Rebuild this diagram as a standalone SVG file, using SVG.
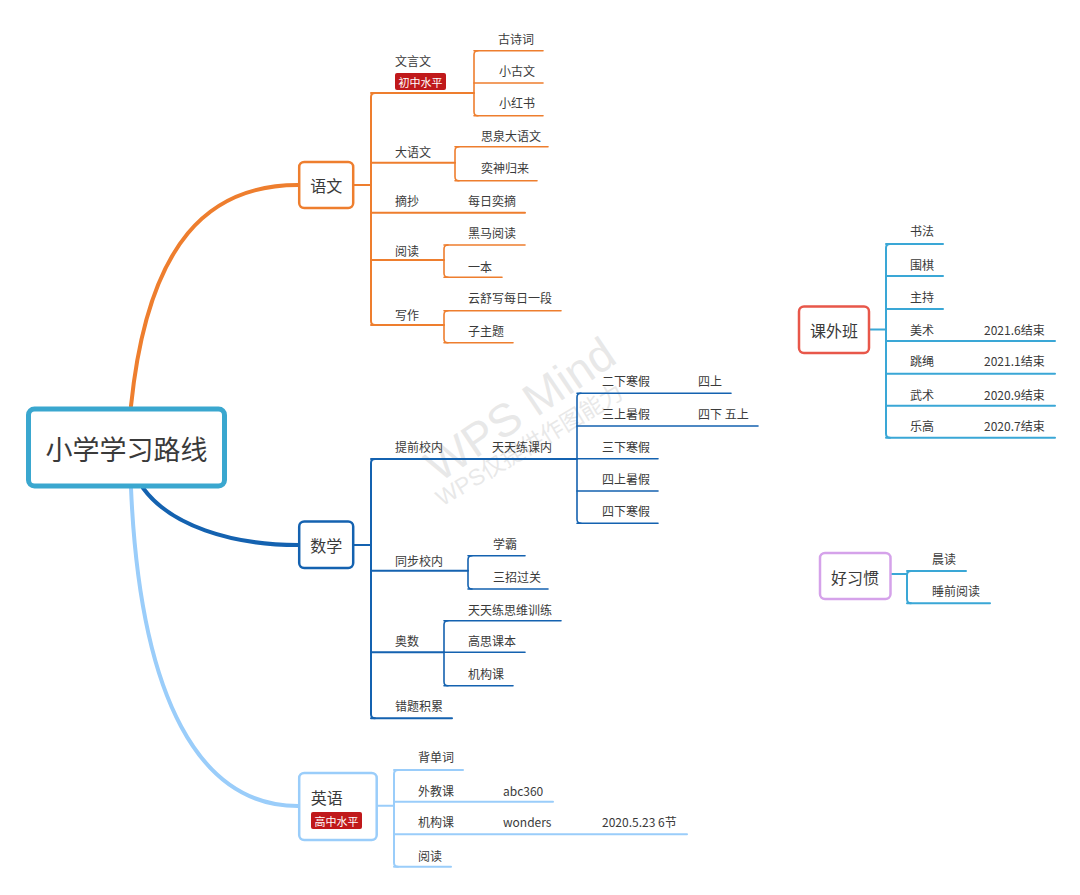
<svg xmlns="http://www.w3.org/2000/svg" width="1080" height="895" viewBox="0 0 1080 895">
<style>
text{font-family:"Noto Sans CJK SC","Liberation Sans",sans-serif;fill:#3a3a3a;dominant-baseline:central}
.t{font-size:12px}
.n{font-size:16px;text-anchor:middle}
.tag{font-size:11px;fill:#fff;text-anchor:middle}
.wm{fill:#d9d9d9;fill-opacity:0.6;font-family:"Liberation Sans","Noto Sans CJK SC",sans-serif}
path,line{fill:none;stroke-linecap:round}
.o{stroke:#EE7E2E}
.b{stroke:#1462B0}
.l{stroke:#9ACDFA}
.c{stroke:#3AA7D6}
.w2{stroke-width:2}
.w15{stroke-width:1.6}
.node{fill:#fff;stroke-width:2.5}
</style>
<rect width="1080" height="895" fill="#fff"/>

<g id="watermark">
<text class="wm" x="0" y="0" font-size="46" transform="translate(430,470) rotate(-34)">WPS Mind</text>
<text class="wm" x="0" y="0" font-size="23" transform="translate(438,500) rotate(-31)">WPS仅提供作图能力</text>
</g>

<g id="connectors">
<!-- main curves -->
<path d="M131,406 C148,240 210,185 298,185" stroke="#EE7E2E" stroke-width="4"/>
<path d="M143,488 C170,525 230,545 298,545" stroke="#1462B0" stroke-width="4"/>
<path d="M131,488 C140,700 200,806 298,806" stroke="#9ACDFA" stroke-width="4"/>

<!-- 语文 -->
<g class="o">
<line class="w2" x1="354" y1="185" x2="371" y2="185"/>
<path class="w2" d="M375,93 Q371,93 371,97 V321 Q371,325 375,325"/>
<line class="w2" x1="371" y1="93" x2="474" y2="93"/>
<line class="w2" x1="371" y1="162.7" x2="455" y2="162.7"/>
<line class="w2" x1="371" y1="212.7" x2="525" y2="212.7"/>
<line class="w2" x1="371" y1="260" x2="444" y2="260"/>
<line class="w2" x1="371" y1="325" x2="444" y2="325"/>
<path class="w15" d="M478,50.7 Q474,50.7 474,54.7 V111.7 Q474,115.7 478,115.7"/>
<line class="w15" x1="474" y1="50.7" x2="543" y2="50.7"/>
<line class="w15" x1="474" y1="83" x2="543" y2="83"/>
<line class="w15" x1="474" y1="115.7" x2="543" y2="115.7"/>
<path class="w15" d="M459,146.7 Q455,146.7 455,150.7 V176.7 Q455,180.7 459,180.7"/>
<line class="w15" x1="455" y1="146.7" x2="548" y2="146.7"/>
<line class="w15" x1="455" y1="180.7" x2="537" y2="180.7"/>
<path class="w15" d="M448,245 Q444,245 444,249 V273.3 Q444,277.3 448,277.3"/>
<line class="w15" x1="444" y1="245" x2="525" y2="245"/>
<line class="w15" x1="444" y1="277.3" x2="502" y2="277.3"/>
<path class="w15" d="M448,310.7 Q444,310.7 444,314.7 V338.7 Q444,342.7 448,342.7"/>
<line class="w15" x1="444" y1="310.7" x2="561" y2="310.7"/>
<line class="w15" x1="444" y1="342.7" x2="513" y2="342.7"/>
</g>

<!-- 数学 -->
<g class="b">
<line class="w2" x1="354" y1="545" x2="371" y2="545"/>
<path class="w2" d="M375,459 Q371,459 371,463 V714.3 Q371,718.3 375,718.3"/>
<line class="w2" x1="371" y1="459" x2="577" y2="459"/>
<line class="w2" x1="371" y1="570.7" x2="468" y2="570.7"/>
<line class="w2" x1="371" y1="652.3" x2="444" y2="652.3"/>
<line class="w2" x1="371" y1="718.3" x2="452" y2="718.3"/>
<path class="w15" d="M581,393.3 Q577,393.3 577,397.3 V519.3 Q577,523.3 581,523.3"/>
<line class="w15" x1="577" y1="393.3" x2="731" y2="393.3"/>
<line class="w15" x1="577" y1="426" x2="758" y2="426"/>
<line class="w15" x1="577" y1="458.7" x2="658" y2="458.7"/>
<line class="w15" x1="577" y1="491" x2="658" y2="491"/>
<line class="w15" x1="577" y1="523.3" x2="658" y2="523.3"/>
<path class="w15" d="M472,555.7 Q468,555.7 468,559.7 V585 Q468,589 472,589"/>
<line class="w15" x1="468" y1="555.7" x2="525" y2="555.7"/>
<line class="w15" x1="468" y1="589" x2="548" y2="589"/>
<path class="w15" d="M448,620.7 Q444,620.7 444,624.7 V681.7 Q444,685.7 448,685.7"/>
<line class="w15" x1="444" y1="620.7" x2="561" y2="620.7"/>
<line class="w15" x1="444" y1="652.3" x2="525" y2="652.3"/>
<line class="w15" x1="444" y1="685.7" x2="513" y2="685.7"/>
</g>

<!-- 英语 -->
<g class="l">
<line class="w2" x1="377" y1="805.7" x2="394" y2="805.7"/>
<path class="w2" d="M398,770 Q394,770 394,774 V862.7 Q394,866.7 398,866.7"/>
<line class="w2" x1="394" y1="770" x2="463" y2="770"/>
<line class="w2" x1="394" y1="801.7" x2="553" y2="801.7"/>
<line class="w2" x1="394" y1="834.3" x2="687" y2="834.3"/>
<line class="w2" x1="394" y1="866.7" x2="451" y2="866.7"/>
</g>

<!-- 课外班 -->
<g class="c">
<line class="w2" x1="869" y1="329.5" x2="886" y2="329.5"/>
<path class="w2" d="M890,244 Q886,244 886,248 V433.7 Q886,437.7 890,437.7"/>
<line class="w2" x1="886" y1="244" x2="943" y2="244"/>
<line class="w2" x1="886" y1="276" x2="943" y2="276"/>
<line class="w2" x1="886" y1="309" x2="943" y2="309"/>
<line class="w2" x1="886" y1="341" x2="1055" y2="341"/>
<line class="w2" x1="886" y1="373.7" x2="1055" y2="373.7"/>
<line class="w2" x1="886" y1="405.7" x2="1055" y2="405.7"/>
<line class="w2" x1="886" y1="437.7" x2="1055" y2="437.7"/>
</g>

<!-- 好习惯 -->
<g class="c">
<line class="w2" x1="891" y1="574" x2="907" y2="574"/>
<path class="w2" d="M911,571 Q907,571 907,575 V599.3 Q907,603.3 911,603.3"/>
<line class="w2" x1="907" y1="571" x2="966" y2="571"/>
<line class="w2" x1="907" y1="603.3" x2="990" y2="603.3"/>
</g>
</g>

<g id="root">
<rect x="28.5" y="409" width="196" height="77" rx="6" fill="#fff" stroke="#3AA7CF" stroke-width="5"/>
<text x="126.5" y="448" font-size="27" text-anchor="middle">小学学习路线</text>
</g>

<g id="yuwen">
<rect class="node" x="299.2" y="162" width="54" height="46" rx="5" stroke="#EE7E2E"/>
<text class="n" x="326.2" y="185">语文</text>
<text class="t" x="395" y="60">文言文</text>
<rect x="395" y="73" width="51" height="17" rx="2" fill="#C0191B"/>
<text class="tag" x="420.5" y="81.5">初中水平</text>
<text class="t" x="498" y="38">古诗词</text>
<text class="t" x="499" y="70.7">小古文</text>
<text class="t" x="499" y="102.7">小红书</text>
<text class="t" x="395" y="151.7">大语文</text>
<text class="t" x="481" y="135.7">思泉大语文</text>
<text class="t" x="481" y="167.7">奕神归来</text>
<text class="t" x="395" y="200">摘抄</text>
<text class="t" x="468" y="200">每日奕摘</text>
<text class="t" x="395" y="250">阅读</text>
<text class="t" x="468" y="232">黑马阅读</text>
<text class="t" x="468" y="266">一本</text>
<text class="t" x="395" y="314">写作</text>
<text class="t" x="468" y="297.7">云舒写每日一段</text>
<text class="t" x="468" y="330">子主题</text>
</g>

<g id="shuxue">
<rect class="node" x="299.2" y="521.5" width="54" height="46.5" rx="5" stroke="#1462B0"/>
<text class="n" x="326.2" y="545">数学</text>
<text class="t" x="395" y="446.7">提前校内</text>
<text class="t" x="492" y="446.7">天天练课内</text>
<text class="t" x="602" y="380.7">二下寒假</text>
<text class="t" x="698" y="380.7">四上</text>
<text class="t" x="602" y="413.3">三上暑假</text>
<text class="t" x="698" y="413.3">四下 五上</text>
<text class="t" x="602" y="446">三下寒假</text>
<text class="t" x="602" y="478.3">四上暑假</text>
<text class="t" x="602" y="510.7">四下寒假</text>
<text class="t" x="395" y="560">同步校内</text>
<text class="t" x="493" y="543.3">学霸</text>
<text class="t" x="493" y="576">三招过关</text>
<text class="t" x="395" y="640.7">奥数</text>
<text class="t" x="468" y="609">天天练思维训练</text>
<text class="t" x="468" y="640.7">高思课本</text>
<text class="t" x="468" y="673.3">机构课</text>
<text class="t" x="395" y="705">错题积累</text>
</g>

<g id="yingyu">
<rect class="node" x="299.2" y="773" width="77.5" height="67" rx="5" stroke="#9ACDFA"/>
<text x="310.7" y="796.7" font-size="16">英语</text>
<rect x="311" y="812" width="51" height="17" rx="2" fill="#C0191B"/>
<text class="tag" x="336.5" y="820.5">高中水平</text>
<text class="t" x="418" y="756.7">背单词</text>
<text class="t" x="418" y="790">外教课</text>
<text class="t" x="503" y="790">abc360</text>
<text class="t" x="418" y="821.7">机构课</text>
<text class="t" x="503" y="821.7">wonders</text>
<text class="t" x="602" y="821.7">2020.5.23 6节</text>
<text class="t" x="418" y="855">阅读</text>
</g>

<g id="kewaiban">
<rect class="node" x="799" y="306.5" width="70" height="46.5" rx="5" stroke="#E8574A"/>
<text class="n" x="834" y="329.5">课外班</text>
<text class="t" x="910" y="230.7">书法</text>
<text class="t" x="910" y="264">围棋</text>
<text class="t" x="910" y="296">主持</text>
<text class="t" x="910" y="329.3">美术</text>
<text class="t" x="984" y="329.3">2021.6结束</text>
<text class="t" x="910" y="360.7">跳绳</text>
<text class="t" x="984" y="360.7">2021.1结束</text>
<text class="t" x="910" y="394">武术</text>
<text class="t" x="984" y="394">2020.9结束</text>
<text class="t" x="910" y="425.7">乐高</text>
<text class="t" x="984" y="425.7">2020.7结束</text>
</g>

<g id="haoxiguan">
<rect class="node" x="820" y="553" width="70.5" height="46" rx="5" stroke="#D5A2EA"/>
<text class="n" x="855" y="576.5">好习惯</text>
<text class="t" x="932" y="558.3">晨读</text>
<text class="t" x="932" y="590.7">睡前阅读</text>
</g>
</svg>
